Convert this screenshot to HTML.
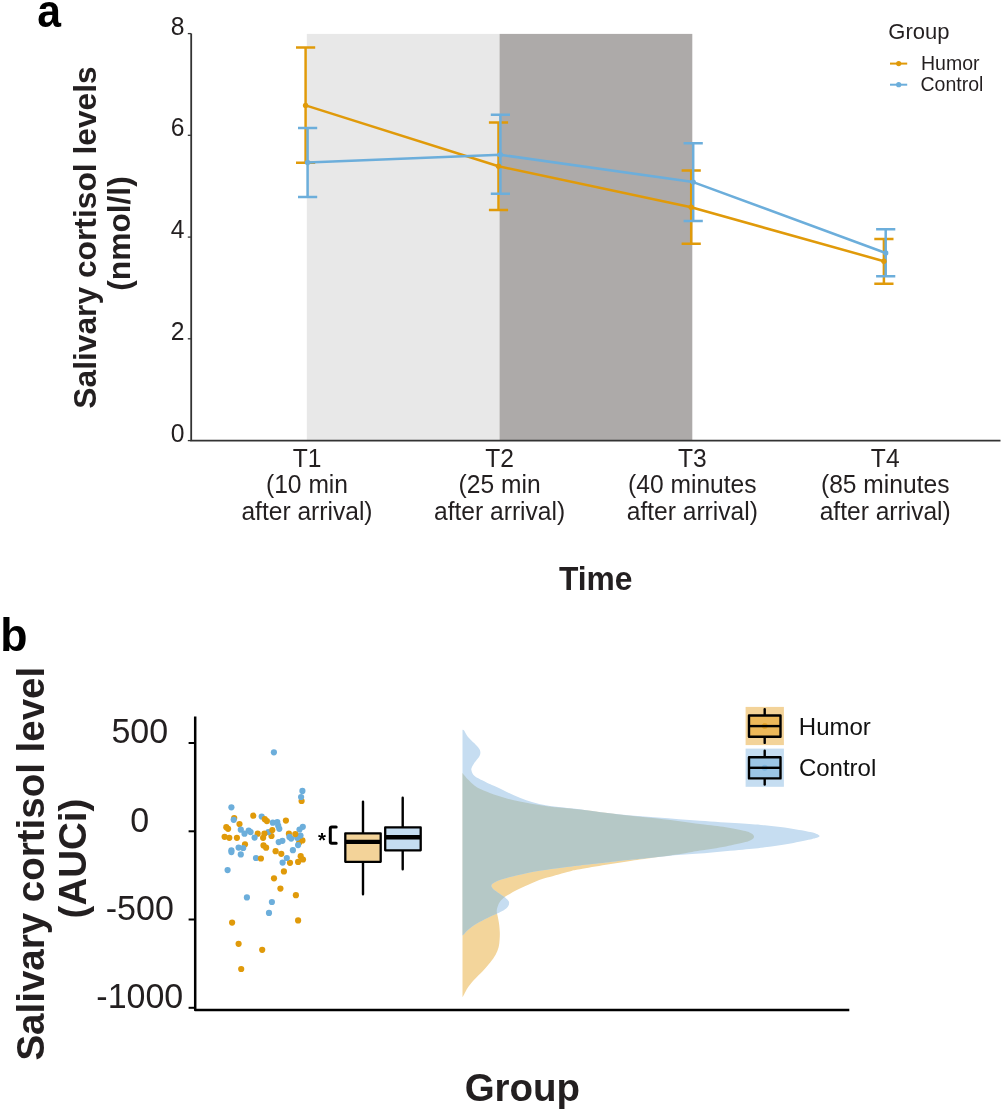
<!DOCTYPE html>
<html lang="en"><head><meta charset="utf-8"><title>Salivary cortisol levels</title>
<style>
html,body{margin:0;padding:0;background:#fff;}
body{width:1003px;height:1112px;overflow:hidden;}
svg{display:block;font-family:"Liberation Sans",sans-serif;}
.b{font-weight:bold;}
</style></head><body>
<svg width="1003" height="1112" viewBox="0 0 1003 1112">
<rect width="1003" height="1112" fill="#ffffff"/>
<g id="panel-a">
<text class="b" transform="translate(37.3,27.4) scale(0.97,1.05)" font-size="44" fill="#000">a</text>
<rect x="306.8" y="33.9" width="193" height="406.6" fill="#E8E8E8"/>
<rect x="499.6" y="33.9" width="192.7" height="406.6" fill="#ADAAA9"/>
<path d="M191.2,33.4 V440.7 H1000.5" fill="none" stroke="#333333" stroke-width="1.8"/>
<path d="M187.8,440.6 H191.2" stroke="#333333" stroke-width="1.3"/>
<text transform="translate(184.6,441.5) scale(1,1.055)" font-size="24.7" text-anchor="end" fill="#231F20">0</text>
<path d="M187.8,338.8 H191.2" stroke="#333333" stroke-width="1.3"/>
<text transform="translate(184.6,339.7) scale(1,1.055)" font-size="24.7" text-anchor="end" fill="#231F20">2</text>
<path d="M187.8,237.1 H191.2" stroke="#333333" stroke-width="1.3"/>
<text transform="translate(184.6,238.0) scale(1,1.055)" font-size="24.7" text-anchor="end" fill="#231F20">4</text>
<path d="M187.8,135.3 H191.2" stroke="#333333" stroke-width="1.3"/>
<text transform="translate(184.6,136.2) scale(1,1.055)" font-size="24.7" text-anchor="end" fill="#231F20">6</text>
<path d="M187.8,33.6 H191.2" stroke="#333333" stroke-width="1.3"/>
<text transform="translate(184.6,34.5) scale(1,1.055)" font-size="24.7" text-anchor="end" fill="#231F20">8</text>
<text class="b" transform="translate(95.5,237.5) rotate(-90)" font-size="31.75" text-anchor="middle" fill="#231F20">Salivary cortisol levels</text>
<text class="b" transform="translate(129.5,233.5) rotate(-90)" font-size="31.7" text-anchor="middle" fill="#231F20">(nmol/l)</text>
<text transform="translate(307.0,466.7) scale(1,1.03)" font-size="24.6" text-anchor="middle" fill="#231F20">T1</text>
<text transform="translate(307.0,493.2) scale(1,1.03)" font-size="24.6" text-anchor="middle" fill="#231F20">(10 min</text>
<text transform="translate(307.0,519.8) scale(1,1.015)" font-size="24.6" text-anchor="middle" fill="#231F20">after arrival)</text>
<text transform="translate(499.6,466.7) scale(1,1.03)" font-size="24.6" text-anchor="middle" fill="#231F20">T2</text>
<text transform="translate(499.6,493.2) scale(1,1.03)" font-size="24.6" text-anchor="middle" fill="#231F20">(25 min</text>
<text transform="translate(499.6,519.8) scale(1,1.015)" font-size="24.6" text-anchor="middle" fill="#231F20">after arrival)</text>
<text transform="translate(692.3,466.7) scale(1,1.03)" font-size="24.6" text-anchor="middle" fill="#231F20">T3</text>
<text transform="translate(692.3,493.2) scale(1,1.03)" font-size="24.6" text-anchor="middle" fill="#231F20">(40 minutes</text>
<text transform="translate(692.3,519.8) scale(1,1.015)" font-size="24.6" text-anchor="middle" fill="#231F20">after arrival)</text>
<text transform="translate(885.2,466.7) scale(1,1.03)" font-size="24.6" text-anchor="middle" fill="#231F20">T4</text>
<text transform="translate(885.2,493.2) scale(1,1.03)" font-size="24.6" text-anchor="middle" fill="#231F20">(85 minutes</text>
<text transform="translate(885.2,519.8) scale(1,1.015)" font-size="24.6" text-anchor="middle" fill="#231F20">after arrival)</text>
<text class="b" transform="translate(595.7,590) scale(1,1.025)" font-size="31.8" text-anchor="middle" fill="#231F20">Time</text>
<path d="M305.6,47.6 V162.8 M296.0,47.6 h19.2 M296.0,162.8 h19.2 M498.5,122.6 V209.9 M488.9,122.6 h19.2 M488.9,209.9 h19.2 M691.2,170.4 V243.7 M681.6,170.4 h19.2 M681.6,243.7 h19.2 M883.9,239.0 V283.7 M874.3,239.0 h19.2 M874.3,283.7 h19.2" fill="none" stroke="#E09A0A" stroke-width="2.5"/>
<path d="M307.6,128.1 V196.9 M298.0,128.1 h19.2 M298.0,196.9 h19.2 M500.4,114.7 V193.7 M490.8,114.7 h19.2 M490.8,193.7 h19.2 M693.2,143.2 V221.0 M683.6,143.2 h19.2 M683.6,221.0 h19.2 M885.7,229.3 V276.3 M876.1,229.3 h19.2 M876.1,276.3 h19.2" fill="none" stroke="#6CAEDB" stroke-width="2.5"/>
<polyline points="305.6,105.4 498.5,166.3 691.2,207.3 883.9,261.2" fill="none" stroke="#E09A0A" stroke-width="2.5" stroke-linejoin="round"/>
<circle cx="305.6" cy="105.4" r="2.7" fill="#E09A0A"/>
<circle cx="498.5" cy="166.3" r="2.7" fill="#E09A0A"/>
<circle cx="691.2" cy="207.3" r="2.7" fill="#E09A0A"/>
<circle cx="883.9" cy="261.2" r="2.7" fill="#E09A0A"/>
<polyline points="307.6,162.5 500.4,154.8 693.2,182.1 885.7,253.0" fill="none" stroke="#6CAEDB" stroke-width="2.5" stroke-linejoin="round"/>
<circle cx="307.6" cy="162.5" r="2.7" fill="#6CAEDB"/>
<circle cx="500.4" cy="154.8" r="2.7" fill="#6CAEDB"/>
<circle cx="693.2" cy="182.1" r="2.7" fill="#6CAEDB"/>
<circle cx="885.7" cy="253.0" r="2.7" fill="#6CAEDB"/>
<text x="888.3" y="39.4" font-size="22" fill="#231F20">Group</text>
<path d="M890,63.6 H907.2" stroke="#E09A0A" stroke-width="2"/>
<circle cx="898.7" cy="63.6" r="2.6" fill="#E09A0A"/>
<text x="921.0" y="70.1" font-size="19.5" fill="#231F20">Humor</text>
<path d="M890,84.7 H907.2" stroke="#6CAEDB" stroke-width="2"/>
<circle cx="898.7" cy="84.7" r="2.6" fill="#6CAEDB"/>
<text x="920.5" y="91.2" font-size="19.5" fill="#231F20">Control</text>
</g>
<g id="panel-b">
<text class="b" transform="translate(0.3,651.4) scale(0.99,1.02)" font-size="45" fill="#000">b</text>
<text class="b" transform="translate(44.2,863.7) rotate(-90)" font-size="38.5" text-anchor="middle" fill="#231F20">Salivary cortisol level</text>
<text class="b" transform="translate(86,858.5) rotate(-90)" font-size="38.5" text-anchor="middle" fill="#231F20">(AUCi)</text>
<text class="b" transform="translate(522.4,1100.9) scale(1,1.025)" font-size="38.5" text-anchor="middle" fill="#231F20">Group</text>
<defs><clipPath id="cpo"><path d="M462.5,772.9 C462.9,773.4 463.8,774.6 464.7,775.7 C465.6,776.8 466.4,778.0 468.0,779.6 C469.6,781.2 472.2,783.9 474.4,785.5 C476.5,787.1 477.6,787.8 480.9,789.3 C484.1,790.8 489.6,793.0 493.9,794.5 C498.2,796.0 502.5,797.2 506.8,798.4 C511.1,799.5 515.5,800.5 519.8,801.4 C524.1,802.3 528.5,803.2 532.8,804.0 C537.1,804.8 541.4,805.3 545.7,805.9 C550.0,806.5 552.2,806.8 558.7,807.5 C565.2,808.2 574.6,808.9 584.6,810.1 C594.6,811.3 606.7,813.1 618.9,814.5 C631.1,815.9 644.3,816.9 657.8,818.5 C671.3,820.1 688.6,822.5 700.0,824.0 C711.4,825.5 718.3,826.0 725.9,827.2 C733.5,828.4 741.1,830.0 745.4,831.1 C749.7,832.2 750.1,832.9 751.5,833.6 C752.9,834.3 753.2,835.0 753.6,835.5 C754.0,836.0 754.0,836.3 754.0,836.7 C754.0,837.1 754.0,837.4 753.6,837.9 C753.2,838.4 752.9,839.0 751.5,839.7 C750.1,840.4 749.7,841.0 745.4,842.1 C741.1,843.2 733.5,845.0 725.9,846.4 C718.3,847.8 707.0,849.4 700.0,850.6 C693.0,851.8 691.6,852.2 683.7,853.4 C675.8,854.6 661.2,856.5 652.6,857.7 C644.0,858.9 639.6,859.5 631.8,860.7 C624.0,861.9 614.5,863.4 605.9,864.8 C597.3,866.2 586.0,868.2 580.0,869.3 C574.0,870.4 575.1,870.0 569.6,871.4 C564.1,872.8 553.4,875.7 547.2,877.6 C541.0,879.5 537.2,880.9 532.2,882.9 C527.2,884.9 521.0,887.9 517.3,889.8 C513.6,891.6 511.9,892.8 509.8,894.0 C507.7,895.2 506.2,895.8 504.6,897.1 C503.0,898.4 501.3,900.0 500.1,901.6 C498.9,903.2 498.2,905.2 497.6,906.8 C497.0,908.4 496.7,909.8 496.7,911.3 C496.7,912.8 497.2,913.8 497.6,915.8 C498.0,917.8 498.6,920.6 499.0,923.3 C499.4,926.0 499.7,929.5 499.8,932.2 C499.9,934.9 499.8,937.2 499.6,939.7 C499.4,942.2 499.3,944.7 498.6,947.2 C497.9,949.7 497.0,952.2 495.6,954.7 C494.2,957.2 492.5,959.5 490.4,962.2 C488.3,964.9 485.6,968.1 482.9,971.1 C480.1,974.1 476.4,977.4 473.9,980.1 C471.4,982.9 469.5,985.2 467.9,987.6 C466.3,990.0 465.1,992.7 464.2,994.3 C463.3,995.9 462.8,996.8 462.5,997.3 Z"/></clipPath></defs>
<path d="M462.5,772.9 C462.9,773.4 463.8,774.6 464.7,775.7 C465.6,776.8 466.4,778.0 468.0,779.6 C469.6,781.2 472.2,783.9 474.4,785.5 C476.5,787.1 477.6,787.8 480.9,789.3 C484.1,790.8 489.6,793.0 493.9,794.5 C498.2,796.0 502.5,797.2 506.8,798.4 C511.1,799.5 515.5,800.5 519.8,801.4 C524.1,802.3 528.5,803.2 532.8,804.0 C537.1,804.8 541.4,805.3 545.7,805.9 C550.0,806.5 552.2,806.8 558.7,807.5 C565.2,808.2 574.6,808.9 584.6,810.1 C594.6,811.3 606.7,813.1 618.9,814.5 C631.1,815.9 644.3,816.9 657.8,818.5 C671.3,820.1 688.6,822.5 700.0,824.0 C711.4,825.5 718.3,826.0 725.9,827.2 C733.5,828.4 741.1,830.0 745.4,831.1 C749.7,832.2 750.1,832.9 751.5,833.6 C752.9,834.3 753.2,835.0 753.6,835.5 C754.0,836.0 754.0,836.3 754.0,836.7 C754.0,837.1 754.0,837.4 753.6,837.9 C753.2,838.4 752.9,839.0 751.5,839.7 C750.1,840.4 749.7,841.0 745.4,842.1 C741.1,843.2 733.5,845.0 725.9,846.4 C718.3,847.8 707.0,849.4 700.0,850.6 C693.0,851.8 691.6,852.2 683.7,853.4 C675.8,854.6 661.2,856.5 652.6,857.7 C644.0,858.9 639.6,859.5 631.8,860.7 C624.0,861.9 614.5,863.4 605.9,864.8 C597.3,866.2 586.0,868.2 580.0,869.3 C574.0,870.4 575.1,870.0 569.6,871.4 C564.1,872.8 553.4,875.7 547.2,877.6 C541.0,879.5 537.2,880.9 532.2,882.9 C527.2,884.9 521.0,887.9 517.3,889.8 C513.6,891.6 511.9,892.8 509.8,894.0 C507.7,895.2 506.2,895.8 504.6,897.1 C503.0,898.4 501.3,900.0 500.1,901.6 C498.9,903.2 498.2,905.2 497.6,906.8 C497.0,908.4 496.7,909.8 496.7,911.3 C496.7,912.8 497.2,913.8 497.6,915.8 C498.0,917.8 498.6,920.6 499.0,923.3 C499.4,926.0 499.7,929.5 499.8,932.2 C499.9,934.9 499.8,937.2 499.6,939.7 C499.4,942.2 499.3,944.7 498.6,947.2 C497.9,949.7 497.0,952.2 495.6,954.7 C494.2,957.2 492.5,959.5 490.4,962.2 C488.3,964.9 485.6,968.1 482.9,971.1 C480.1,974.1 476.4,977.4 473.9,980.1 C471.4,982.9 469.5,985.2 467.9,987.6 C466.3,990.0 465.1,992.7 464.2,994.3 C463.3,995.9 462.8,996.8 462.5,997.3 Z" fill="#F3D59B"/>
<path d="M462.5,729.7 C462.8,729.8 463.2,729.2 464.1,730.4 C465.0,731.6 466.3,734.8 468.0,736.9 C469.7,739.0 472.6,741.4 474.4,743.3 C476.2,745.2 478.0,747.0 479.0,748.5 C480.0,750.0 480.4,751.0 480.4,752.4 C480.4,753.8 480.0,755.2 479.0,756.9 C478.0,758.6 475.6,760.9 474.4,762.8 C473.2,764.6 472.1,766.7 471.6,768.0 C471.1,769.3 471.2,769.5 471.5,770.6 C471.8,771.7 472.0,773.1 473.1,774.4 C474.2,775.7 475.9,776.9 478.3,778.3 C480.7,779.7 484.8,781.6 487.4,782.9 C490.0,784.1 490.7,784.3 493.9,785.8 C497.1,787.3 502.5,789.9 506.8,791.9 C511.1,793.9 515.5,796.1 519.8,797.8 C524.1,799.5 528.5,801.0 532.8,802.3 C537.1,803.5 541.4,804.5 545.7,805.3 C550.0,806.1 552.2,806.3 558.7,807.1 C565.2,807.9 574.6,808.7 584.6,809.9 C594.6,811.1 606.7,813.0 618.9,814.3 C631.1,815.6 644.3,816.4 657.8,817.5 C671.3,818.6 686.5,819.7 700.0,820.7 C713.5,821.7 728.1,822.5 738.9,823.3 C749.7,824.1 756.2,824.4 764.8,825.3 C773.4,826.2 783.1,827.4 790.7,828.5 C798.3,829.6 805.9,831.2 810.2,832.1 C814.5,833.0 815.2,833.5 816.7,834.0 C818.2,834.5 818.5,834.9 819.0,835.2 C819.5,835.5 819.5,835.7 819.5,836.0 C819.5,836.3 819.5,836.5 819.0,836.8 C818.5,837.1 818.2,837.3 816.7,837.8 C815.2,838.2 814.5,838.6 810.2,839.5 C805.9,840.4 798.3,842.1 790.7,843.4 C783.1,844.7 773.4,846.2 764.8,847.3 C756.2,848.4 749.7,848.9 738.9,849.9 C728.1,850.9 711.4,852.5 700.0,853.5 C688.6,854.5 682.1,854.7 670.7,855.7 C659.3,856.7 642.6,858.5 631.8,859.6 C621.0,860.8 614.5,861.6 605.9,862.6 C597.3,863.6 586.0,864.8 580.0,865.5 C574.0,866.2 576.3,865.8 569.6,866.7 C562.9,867.6 548.4,869.3 539.7,870.7 C531.0,872.1 523.5,873.8 517.3,875.2 C511.1,876.6 506.0,878.0 502.3,879.2 C498.6,880.4 496.7,881.2 494.9,882.2 C493.1,883.2 491.6,884.2 491.4,885.4 C491.1,886.6 492.1,887.9 493.4,889.2 C494.7,890.5 497.4,892.1 499.3,893.4 C501.2,894.7 503.1,895.9 504.6,897.1 C506.1,898.3 507.6,899.8 508.3,900.8 C509.1,901.8 509.2,902.1 509.1,903.1 C509.1,904.1 508.9,905.3 508.0,906.5 C507.1,907.7 505.6,909.1 503.8,910.3 C502.0,911.5 499.8,912.3 497.1,913.6 C494.4,914.9 490.8,916.3 487.4,918.0 C484.0,919.7 480.1,921.6 476.9,923.6 C473.6,925.6 470.0,928.3 467.9,930.0 C465.8,931.7 465.1,933.1 464.2,934.0 C463.3,934.9 462.8,935.2 462.5,935.5 Z" fill="#C6DDF1"/>
<path d="M462.5,729.7 C462.8,729.8 463.2,729.2 464.1,730.4 C465.0,731.6 466.3,734.8 468.0,736.9 C469.7,739.0 472.6,741.4 474.4,743.3 C476.2,745.2 478.0,747.0 479.0,748.5 C480.0,750.0 480.4,751.0 480.4,752.4 C480.4,753.8 480.0,755.2 479.0,756.9 C478.0,758.6 475.6,760.9 474.4,762.8 C473.2,764.6 472.1,766.7 471.6,768.0 C471.1,769.3 471.2,769.5 471.5,770.6 C471.8,771.7 472.0,773.1 473.1,774.4 C474.2,775.7 475.9,776.9 478.3,778.3 C480.7,779.7 484.8,781.6 487.4,782.9 C490.0,784.1 490.7,784.3 493.9,785.8 C497.1,787.3 502.5,789.9 506.8,791.9 C511.1,793.9 515.5,796.1 519.8,797.8 C524.1,799.5 528.5,801.0 532.8,802.3 C537.1,803.5 541.4,804.5 545.7,805.3 C550.0,806.1 552.2,806.3 558.7,807.1 C565.2,807.9 574.6,808.7 584.6,809.9 C594.6,811.1 606.7,813.0 618.9,814.3 C631.1,815.6 644.3,816.4 657.8,817.5 C671.3,818.6 686.5,819.7 700.0,820.7 C713.5,821.7 728.1,822.5 738.9,823.3 C749.7,824.1 756.2,824.4 764.8,825.3 C773.4,826.2 783.1,827.4 790.7,828.5 C798.3,829.6 805.9,831.2 810.2,832.1 C814.5,833.0 815.2,833.5 816.7,834.0 C818.2,834.5 818.5,834.9 819.0,835.2 C819.5,835.5 819.5,835.7 819.5,836.0 C819.5,836.3 819.5,836.5 819.0,836.8 C818.5,837.1 818.2,837.3 816.7,837.8 C815.2,838.2 814.5,838.6 810.2,839.5 C805.9,840.4 798.3,842.1 790.7,843.4 C783.1,844.7 773.4,846.2 764.8,847.3 C756.2,848.4 749.7,848.9 738.9,849.9 C728.1,850.9 711.4,852.5 700.0,853.5 C688.6,854.5 682.1,854.7 670.7,855.7 C659.3,856.7 642.6,858.5 631.8,859.6 C621.0,860.8 614.5,861.6 605.9,862.6 C597.3,863.6 586.0,864.8 580.0,865.5 C574.0,866.2 576.3,865.8 569.6,866.7 C562.9,867.6 548.4,869.3 539.7,870.7 C531.0,872.1 523.5,873.8 517.3,875.2 C511.1,876.6 506.0,878.0 502.3,879.2 C498.6,880.4 496.7,881.2 494.9,882.2 C493.1,883.2 491.6,884.2 491.4,885.4 C491.1,886.6 492.1,887.9 493.4,889.2 C494.7,890.5 497.4,892.1 499.3,893.4 C501.2,894.7 503.1,895.9 504.6,897.1 C506.1,898.3 507.6,899.8 508.3,900.8 C509.1,901.8 509.2,902.1 509.1,903.1 C509.1,904.1 508.9,905.3 508.0,906.5 C507.1,907.7 505.6,909.1 503.8,910.3 C502.0,911.5 499.8,912.3 497.1,913.6 C494.4,914.9 490.8,916.3 487.4,918.0 C484.0,919.7 480.1,921.6 476.9,923.6 C473.6,925.6 470.0,928.3 467.9,930.0 C465.8,931.7 465.1,933.1 464.2,934.0 C463.3,934.9 462.8,935.2 462.5,935.5 Z" fill="#B5C8C6" clip-path="url(#cpo)"/>
<path d="M195.2,716.6 V1010.1 H849.3" fill="none" stroke="#000" stroke-width="2.5" stroke-linejoin="round"/>
<path d="M188.6,743.0 H195.2" stroke="#000" stroke-width="2"/>
<text transform="translate(139.8,743.4) scale(1,1.045)" font-size="34" text-anchor="middle" fill="#231F20">500</text>
<path d="M188.6,831.3 H195.2" stroke="#000" stroke-width="2"/>
<text transform="translate(139.8,831.7) scale(1,1.045)" font-size="34" text-anchor="middle" fill="#231F20">0</text>
<path d="M188.6,919.5 H195.2" stroke="#000" stroke-width="2"/>
<text transform="translate(139.8,919.9) scale(1,1.045)" font-size="34" text-anchor="middle" fill="#231F20">-500</text>
<path d="M188.6,1007.8 H195.2" stroke="#000" stroke-width="2"/>
<text transform="translate(139.8,1008.2) scale(1,1.045)" font-size="34" text-anchor="middle" fill="#231F20">-1000</text>
<g fill="#E09A0A">
<circle cx="301.6" cy="801.0" r="3.1"/>
<circle cx="253.3" cy="815.7" r="3.1"/>
<circle cx="234.2" cy="818.1" r="3.1"/>
<circle cx="285.9" cy="820.6" r="3.1"/>
<circle cx="239.5" cy="824.0" r="3.1"/>
<circle cx="226.3" cy="827.2" r="3.1"/>
<circle cx="228.1" cy="828.8" r="3.1"/>
<circle cx="257.7" cy="833.7" r="3.1"/>
<circle cx="271.5" cy="836.0" r="3.1"/>
<circle cx="263.1" cy="837.8" r="3.1"/>
<circle cx="224.6" cy="836.8" r="3.1"/>
<circle cx="229.3" cy="837.8" r="3.1"/>
<circle cx="236.9" cy="837.8" r="3.1"/>
<circle cx="288.9" cy="833.7" r="3.1"/>
<circle cx="302.4" cy="840.4" r="3.1"/>
<circle cx="245.0" cy="844.3" r="3.1"/>
<circle cx="263.5" cy="845.4" r="3.1"/>
<circle cx="266.1" cy="847.7" r="3.1"/>
<circle cx="275.6" cy="851.2" r="3.1"/>
<circle cx="281.3" cy="853.8" r="3.1"/>
<circle cx="300.7" cy="856.2" r="3.1"/>
<circle cx="303.0" cy="859.5" r="3.1"/>
<circle cx="298.1" cy="861.9" r="3.1"/>
<circle cx="290.0" cy="862.8" r="3.1"/>
<circle cx="283.9" cy="871.4" r="3.1"/>
<circle cx="274.0" cy="878.3" r="3.1"/>
<circle cx="280.4" cy="888.6" r="3.1"/>
<circle cx="295.9" cy="895.2" r="3.1"/>
<circle cx="298.1" cy="920.4" r="3.1"/>
<circle cx="232.1" cy="922.6" r="3.1"/>
<circle cx="238.6" cy="943.8" r="3.1"/>
<circle cx="262.2" cy="949.8" r="3.1"/>
<circle cx="241.2" cy="969.0" r="3.1"/>
<circle cx="299.2" cy="842.6" r="3.1"/>
</g>
<g fill="#6CAEDB">
<circle cx="273.9" cy="752.3" r="3.1"/>
<circle cx="302.4" cy="790.9" r="3.1"/>
<circle cx="301.1" cy="797.0" r="3.1"/>
<circle cx="231.4" cy="807.3" r="3.1"/>
<circle cx="261.7" cy="816.5" r="3.1"/>
<circle cx="233.7" cy="819.8" r="3.1"/>
<circle cx="272.8" cy="822.7" r="3.1"/>
<circle cx="277.3" cy="822.0" r="3.1"/>
<circle cx="278.2" cy="825.7" r="3.1"/>
<circle cx="279.3" cy="828.8" r="3.1"/>
<circle cx="240.8" cy="829.7" r="3.1"/>
<circle cx="248.7" cy="830.6" r="3.1"/>
<circle cx="250.6" cy="832.1" r="3.1"/>
<circle cx="244.5" cy="833.7" r="3.1"/>
<circle cx="268.4" cy="832.1" r="3.1"/>
<circle cx="254.6" cy="837.6" r="3.1"/>
<circle cx="302.8" cy="826.8" r="3.1"/>
<circle cx="299.5" cy="829.5" r="3.1"/>
<circle cx="300.5" cy="835.6" r="3.1"/>
<circle cx="289.4" cy="836.9" r="3.1"/>
<circle cx="291.2" cy="838.6" r="3.1"/>
<circle cx="297.2" cy="837.8" r="3.1"/>
<circle cx="282.4" cy="840.8" r="3.1"/>
<circle cx="278.7" cy="842.1" r="3.1"/>
<circle cx="298.1" cy="845.1" r="3.1"/>
<circle cx="238.6" cy="847.6" r="3.1"/>
<circle cx="243.2" cy="848.0" r="3.1"/>
<circle cx="231.4" cy="850.3" r="3.1"/>
<circle cx="231.4" cy="852.1" r="3.1"/>
<circle cx="292.9" cy="850.2" r="3.1"/>
<circle cx="240.8" cy="854.4" r="3.1"/>
<circle cx="256.0" cy="858.0" r="3.1"/>
<circle cx="286.8" cy="858.0" r="3.1"/>
<circle cx="282.6" cy="862.6" r="3.1"/>
<circle cx="227.6" cy="870.1" r="3.1"/>
<circle cx="246.9" cy="897.4" r="3.1"/>
<circle cx="271.9" cy="902.0" r="3.1"/>
<circle cx="269.0" cy="912.9" r="3.1"/>
</g>
<g fill="#E09A0A">
<circle cx="264.8" cy="819.2" r="3.1"/>
<circle cx="266.9" cy="821.1" r="3.1"/>
<circle cx="272.3" cy="830.1" r="3.1"/>
<circle cx="264.4" cy="833.7" r="3.1"/>
<circle cx="295.3" cy="834.1" r="3.1"/>
<circle cx="260.9" cy="858.5" r="3.1"/>
</g>
<text class="b" x="322" y="846.5" font-size="20.5" text-anchor="middle" fill="#000">*</text>
<path d="M336.2,827.1 H331.8 Q330.3,827.1 330.3,828.6 V841.8 Q330.3,843.3 331.8,843.3 H336.2" fill="none" stroke="#000" stroke-width="3" stroke-linecap="round"/>
<path d="M363.0,801.6 V833.3 M363.0,861.8 V894.3" stroke="#000" stroke-width="2.4" stroke-linecap="round" fill="none"/>
<rect x="345.3" y="833.3" width="35.4" height="28.5" fill="#F3D399" stroke="#000" stroke-width="2.3" stroke-linejoin="round"/>
<path d="M345.3,841.9 H380.7" stroke="#000" stroke-width="4.4"/>
<path d="M402.7,797.8 V827.4 M402.7,850.3 V869.3" stroke="#000" stroke-width="2.4" stroke-linecap="round" fill="none"/>
<rect x="385.2" y="827.4" width="35.5" height="22.9" fill="#C5DDF1" stroke="#000" stroke-width="2.3" stroke-linejoin="round"/>
<path d="M385.2,837.3 H420.7" stroke="#000" stroke-width="4.4"/>
<rect x="745.6" y="706.9" width="38.3" height="38.2" fill="#F3D399"/>
<path d="M764.7,709.1 V742.9" stroke="#000" stroke-width="2.4" stroke-linecap="round"/>
<rect x="749" y="715.5" width="31.5" height="21.2" fill="#EDB95A" stroke="#000" stroke-width="2.4" stroke-linejoin="round"/>
<circle cx="764.7" cy="726.1" r="3" fill="#E5A52B"/>
<path d="M749,726.1 H780.5" stroke="#000" stroke-width="2.4"/>
<text x="798.8" y="735.2" font-size="24" fill="#111">Humor</text>
<rect x="745.6" y="748.6" width="38.3" height="38.2" fill="#C5DDF1"/>
<path d="M764.7,750.8 V784.6" stroke="#000" stroke-width="2.4" stroke-linecap="round"/>
<rect x="749" y="757.2" width="31.5" height="21.2" fill="#9CC6E6" stroke="#000" stroke-width="2.4" stroke-linejoin="round"/>
<circle cx="764.7" cy="767.8" r="3" fill="#7DB6E0"/>
<path d="M749,767.8 H780.5" stroke="#000" stroke-width="2.4"/>
<text x="798.9" y="776.3" font-size="24" fill="#111">Control</text>
</g>
</svg>
</body></html>
